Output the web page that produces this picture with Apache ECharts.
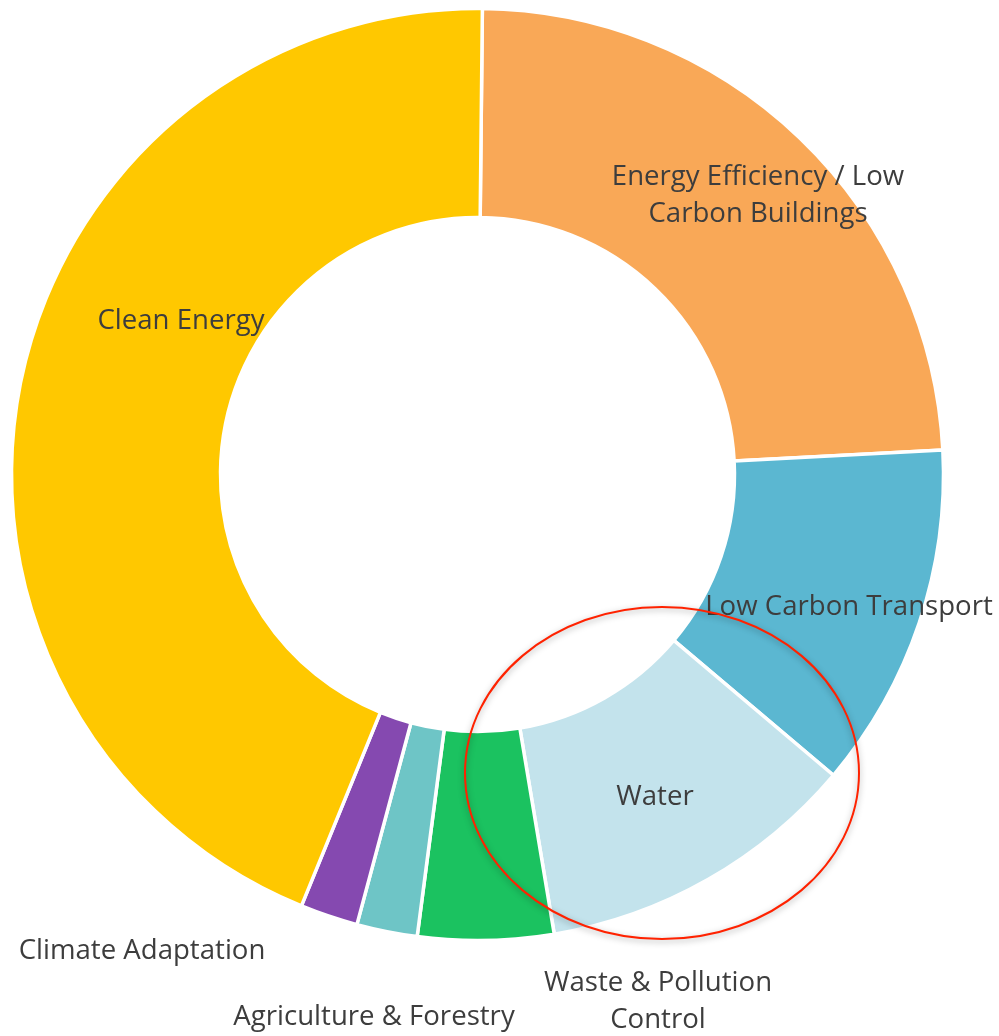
<!DOCTYPE html>
<html>
<head>
<meta charset="utf-8">
<script src="https://cdn.jsdelivr.net/npm/echarts@6/dist/echarts.min.js"></script>
<style>
html,body{margin:0;padding:0;background:#fff;}
#chart{width:999px;height:1036px;}
</style>
</head>
<body>
<div id="chart"></div>
<script>
// Data (share of total, %), clockwise from 12 o'clock
const categories = [
  "Energy Efficiency / Low\nCarbon Buildings",
  "Low Carbon Transport",
  "Water",
  "Waste & Pollution\nControl",
  "Agriculture & Forestry",
  "Climate Adaptation",
  "Clean Energy"
];
const values = [24.0, 12.0, 11.2, 4.7, 2.1, 2.0, 44.0];
const colors = ["#F9A857", "#5BB7D1", "#C3E3EC", "#1BC260", "#6EC5C6", "#8549B0", "#FFC800"];

// label anchor positions (layout, not data)
const labelPos = [
  [758, 196], [849, 607], [655, 797], [658, 1002], [374, 1017], [142, 951], [181, 321]
];

const chart = echarts.init(document.getElementById('chart'), null, {renderer: 'canvas'});
chart.setOption({
  animation: false,
  backgroundColor: '#ffffff',
  series: [{
    type: 'pie',
    center: [477.5, 474.5],
    radius: [257, 466],
    startAngle: 89.4,
    clockwise: true,
    avoidLabelOverlap: false,
    itemStyle: { borderColor: '#ffffff', borderWidth: 3.5 },
    label: {
      show: true,
      position: 'outside',
      formatter: '{b}',
      fontFamily: 'Open Sans',
      fontSize: 27.6,
      lineHeight: 37,
      color: '#3d3d3d',
      align: 'center'
    },
    labelLine: { show: false },
    labelLayout: function (params) {
      const p = labelPos[params.dataIndex];
      return { x: p[0], y: p[1], align: 'center', verticalAlign: 'middle' };
    },
    emphasis: { disabled: true },
    data: categories.map((c, i) => ({ name: c, value: values[i], itemStyle: { color: colors[i] } }))
  }],
  graphic: [{
    type: 'ellipse',
    shape: { cx: 662, cy: 773, rx: 197, ry: 166 },
    style: {
      fill: 'none',
      stroke: '#FF2200',
      lineWidth: 2,
      shadowBlur: 6,
      shadowColor: 'rgba(0,0,0,0.35)',
      shadowOffsetY: 2
    },
    z: 100
  }]
});
</script>
</body>
</html>
